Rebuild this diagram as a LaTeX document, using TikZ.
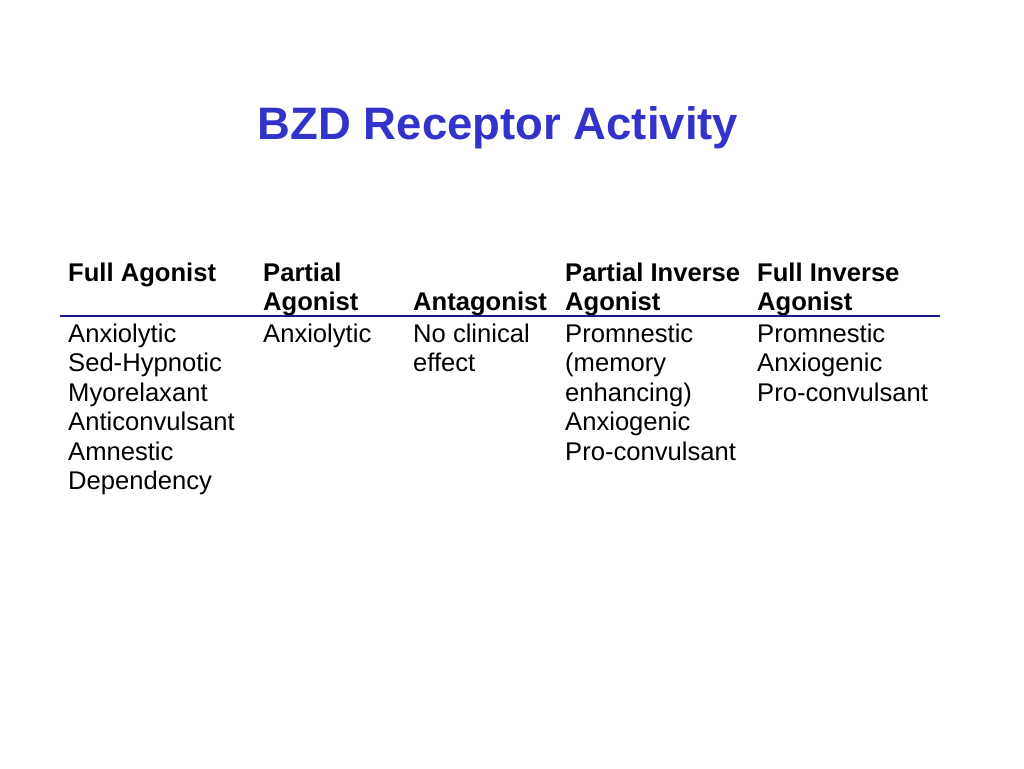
\documentclass[tikz,border=0pt]{standalone}
\usepackage{fontspec}
\setmainfont{Liberation Sans}
\usetikzlibrary{positioning}
\definecolor{titleblue}{RGB}{51,51,204}
\definecolor{rulenavy}{RGB}{25,25,140}

\begin{document}
\begin{tikzpicture}[x=1pt,y=-1pt,
    cell/.style = {inner sep = 0pt, anchor = base west, align = left,
                   font = \fontsize{25.6}{29.5}\selectfont},
    head/.style = {cell, font = \fontsize{25.6}{29.5}\selectfont\bfseries}]

    \useasboundingbox[fill = white] (0,0) rectangle (1024,768);

    \node[inner sep = 0pt,
          anchor = base,
          text = titleblue,
          font = \fontsize{45.5}{52}\selectfont\bfseries
          ] (title) at (498,139) {BZD Receptor Activity};

    % header row (anchored at the baseline of the last line)
    \node[head] (hfull) at (68,281) {Full Agonist};
    \node[head] (hpart) at (263,310.5) {Partial\\Agonist};
    \node[head] (hanta) at (413,310.5) {Antagonist};
    \node[head] (hpinv) at (565,310.5) {Partial Inverse\\Agonist};
    \node[head] (hfinv) at (757,310.5) {Full Inverse\\Agonist};

    \coordinate (rulew) at (60,316);
    \coordinate (rulee) at (940,316);
    \draw[rulenavy, line width = 2pt] (rulew) -- (rulee);

    % body row
    \node[cell] (bfull) at (68,489.5) {Anxiolytic\\Sed-Hypnotic\\Myorelaxant\\Anticonvulsant\\Amnestic\\Dependency};
    \node[cell] (bpart) at (263,342) {Anxiolytic};
    \node[cell] (banta) at (413,371.5) {No clinical\\effect};
    \node[cell] (bpinv) at (565,460) {Promnestic\\(memory\\enhancing)\\Anxiogenic\\Pro-convulsant};
    \node[cell] (bfinv) at (757,401) {Promnestic\\Anxiogenic\\Pro-convulsant};

\end{tikzpicture}
\end{document}
